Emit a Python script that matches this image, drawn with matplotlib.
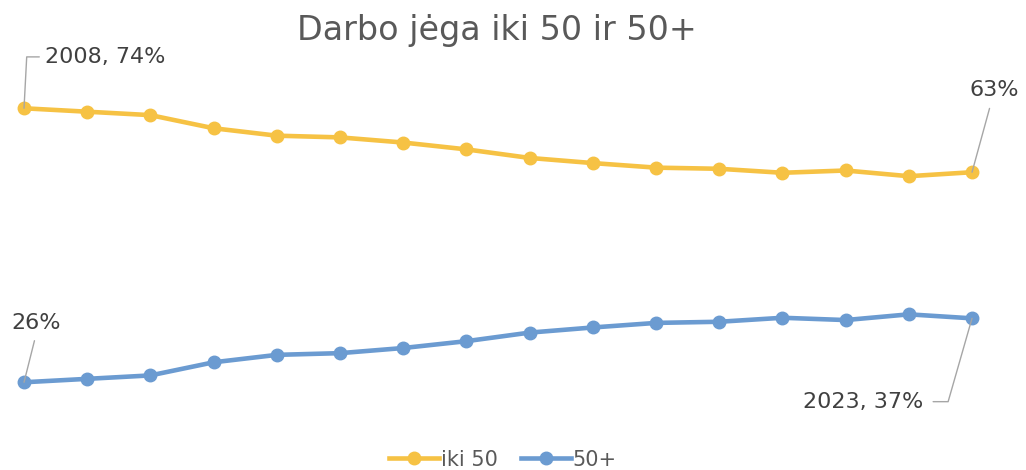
import matplotlib.pyplot as plt

# Labour force share by age group, %
years = list(range(2008, 2024))
under_50 = [74.0, 73.4, 72.8, 70.5, 69.2, 68.9, 68.0, 66.8, 65.3, 64.4, 63.6, 63.4, 62.7, 63.1, 62.1, 62.8]
over_50 = [round(100 - v, 1) for v in under_50]

yellow = '#F6C244'
blue = '#6B9BD1'
txt = '#404040'

fig = plt.figure(figsize=(10.26, 4.70), dpi=100)
ax = fig.add_axes([0, 0, 1, 1])
ax.plot(years, under_50, color=yellow, lw=3.3, marker='o', ms=9, label='iki 50')
ax.plot(years, over_50, color=blue, lw=3.3, marker='o', ms=9, label='50+')
ax.set_xlim(2007.62, 2023.854)
ax.set_ylim(10.63, 92.97)
ax.axis('off')

fig.text(0.484, 0.935, 'Darbo jėga iki 50 ir 50+', ha='center', va='center',
         fontsize=24, color='#595959')

lead = dict(arrowstyle='-', color='#A6A6A6', lw=1, shrinkA=2, shrinkB=0)

# end-point labels
ax.annotate(f'{years[0]}, {under_50[0]:.0f}%', xy=(years[0], under_50[0]),
            xytext=(15, 37), textcoords='offset points', ha='left', va='center',
            fontsize=16, color=txt,
            arrowprops=dict(lead, relpos=(0, 0.5),
                            connectionstyle='angle,angleA=0,angleB=87,rad=0'))
ax.annotate(f'{under_50[-1]:.0f}%', xy=(years[-1], under_50[-1]),
            xytext=(16, 59), textcoords='offset points', ha='center', va='center',
            fontsize=16, color=txt,
            arrowprops=dict(lead, relpos=(0.45, 0), shrinkA=4))
ax.annotate(f'{over_50[0]:.0f}%', xy=(years[0], over_50[0]),
            xytext=(9, 43), textcoords='offset points', ha='center', va='center',
            fontsize=16, color=txt,
            arrowprops=dict(lead, relpos=(0.5, 0), shrinkA=4))
ax.annotate(f'{years[-1]}, {over_50[-1]:.0f}%', xy=(years[-1], over_50[-1]),
            xytext=(-35, -60), textcoords='offset points', ha='right', va='center',
            fontsize=16, color=txt,
            arrowprops=dict(lead, relpos=(1, 0.5), shrinkA=5,
                            connectionstyle='angle,angleA=0,angleB=74,rad=0'))

leg = fig.legend(loc='center', bbox_to_anchor=(0.49, 0.022), ncol=2, frameon=False,
                 fontsize=15, handlelength=2.4, handletextpad=0.1, columnspacing=1.1,
                 labelcolor='#595959')

fig.savefig('out.png', dpi=100)
